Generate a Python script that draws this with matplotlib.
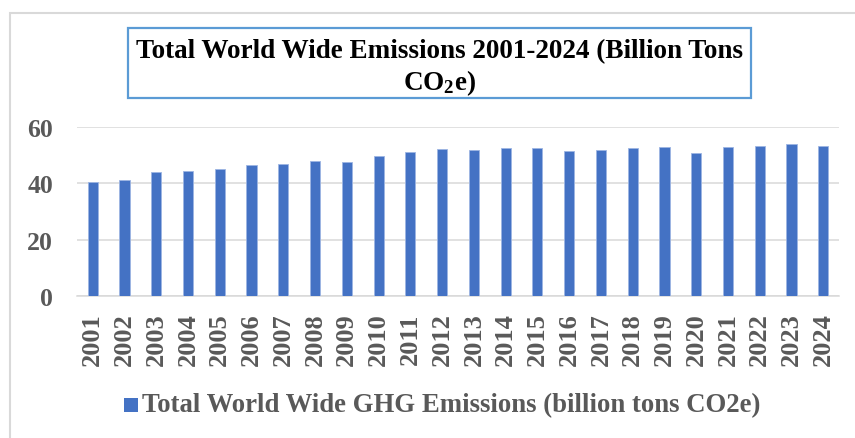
import matplotlib
matplotlib.use("Agg")
import matplotlib.pyplot as plt
from matplotlib.patches import Rectangle

years = [str(y) for y in range(2001, 2025)]
emissions = [40.5, 41.3, 43.9, 44.4, 45.0, 46.7, 46.9, 47.9, 47.8, 49.9,
             51.3, 52.1, 51.9, 52.5, 52.5, 51.4, 52.0, 52.5, 53.0, 51.0,
             53.1, 53.5, 54.1, 53.4]
y_ticks = [0, 20, 40, 60]

title_line1 = "Total World Wide Emissions 2001-2024 (Billion Tons"
title_line2 = r"CO$_2$e)"
series_label = "Total World Wide GHG Emissions (billion tons CO2e)"

plt.rcParams["font.family"] = ["Liberation Serif", "DejaVu Serif"]
plt.rcParams["mathtext.fontset"] = "custom"
plt.rcParams["mathtext.rm"] = "Liberation Serif:bold"
plt.rcParams["mathtext.it"] = "Liberation Serif:bold"
plt.rcParams["mathtext.bf"] = "Liberation Serif:bold"

W, H = 855, 439
fig = plt.figure(figsize=(W / 100, H / 100), dpi=100)

def fx(px):
    return px / W

def fy(py):
    return 1 - py / H

# chart frame
fig.patches.append(Rectangle((fx(9.5), fy(460)), fx(870), fy(13.5) - fy(460),
                             transform=fig.transFigure, fill=False,
                             edgecolor="#d9d9d9", linewidth=1.5))

# plot area
ax = fig.add_axes([fx(76.8), fy(296.7), fx(839.2) - fx(76.8), fy(128.3) - fy(296.7)])
x = list(range(len(years)))
ax.bar(x, emissions, width=0.32, color="#4472C4", edgecolor="#9db5e3",
       linewidth=0.6, zorder=3)
ax.set_xlim(-0.5, len(years) - 0.5)
ax.set_ylim(0, 60)
ax.set_yticks(y_ticks)
ax.set_xticks(x)
ax.set_xticklabels(years, rotation=90)
ax.yaxis.grid(True, color="#d9d9d9", linewidth=1.1, zorder=0)
ax.set_axisbelow(True)
for s in ["top", "right", "left"]:
    ax.spines[s].set_visible(False)
ax.spines["bottom"].set_color("#d9d9d9")
ax.spines["bottom"].set_linewidth(1.1)
ax.tick_params(axis="both", length=0, colors="#595959")
ax.tick_params(axis="y", pad=17, labelsize=18.5)
ax.tick_params(axis="x", pad=12, labelsize=19)
for lab in ax.get_xticklabels() + ax.get_yticklabels():
    lab.set_fontweight("bold")

# title box
fig.patches.append(Rectangle((fx(128), fy(99)), fx(751) - fx(128), fy(29) - fy(99),
                             transform=fig.transFigure, fill=False,
                             edgecolor="#5b9bd5", linewidth=1.6))
fig.text(fx(439.5), fy(52), title_line1, ha="center", va="center",
         fontsize=19.5, fontweight="bold", color="black")
fig.text(fx(439.5), fy(83), title_line2, ha="center", va="center",
         fontsize=19.5, fontweight="bold", color="black")

# legend
fig.patches.append(Rectangle((fx(124), fy(413)), fx(14), fy(399) - fy(413),
                             transform=fig.transFigure, facecolor="#4472C4",
                             edgecolor="none"))
fig.text(fx(142), fy(406), series_label, ha="left", va="center",
         fontsize=19.3, fontweight="bold", color="#595959")

fig.savefig("out.png", dpi=100)
